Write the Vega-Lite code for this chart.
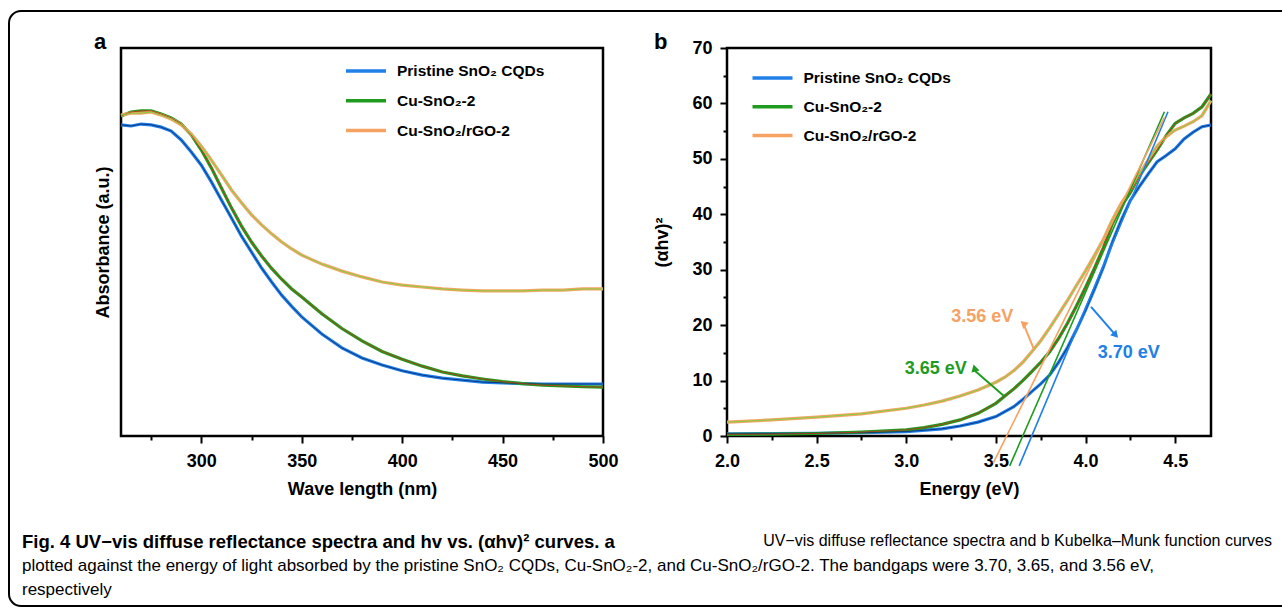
{
  "$schema": "https://vega.github.io/schema/vega-lite/v6.json",
  "background": "white",
  "padding": {"left": 8, "top": 10, "right": -54, "bottom": 0},
  "bounds": "flush",
  "spacing": 124,
  "resolve": {"scale": {"color": "independent", "stroke": "independent", "angle": "independent", "fill": "independent"}, "legend": {"color": "independent", "fill": "independent"}},
  "title": {
    "text": "Fig. 4 UV−vis diffuse reflectance spectra and hv vs. (αhv)² curves. a",
    "subtitle": ["plotted against the energy of light absorbed by the pristine SnO₂ CQDs, Cu-SnO₂-2, and Cu-SnO₂/rGO-2. The bandgaps were 3.70, 3.65, and 3.56 eV,", "respectively"],
    "orient": "bottom", "anchor": "start", "frame": "bounds", "dx": 14, "offset": -74,
    "font": "Liberation Sans", "fontSize": 18.5, "fontWeight": "bold", "color": "black",
    "subtitleFont": "Liberation Sans", "subtitleFontSize": 17, "subtitleColor": "black", "subtitlePadding": 6, "subtitleLineHeight": 24.5
  },
  "config": {
    "font": "Liberation Sans",
    "view": {"stroke": "black", "strokeWidth": 2.5},
    "axis": {"labelFont": "Liberation Sans", "labelFontWeight": "bold", "labelFontSize": 18, "labelColor": "black", "titleFont": "Liberation Sans", "titleFontWeight": "bold", "titleFontSize": 18, "titleColor": "black", "tickColor": "black", "tickWidth": 2, "domain": false, "grid": false, "labelOverlap": false, "labelFlush": false},
    "legend": {"labelFont": "Liberation Sans", "labelFontWeight": "bold", "labelFontSize": 15.5, "labelColor": "black"}
  },
  "datasets": {
    "spec": [
      {"s": "Pristine SnO₂ CQDs", "wl": 260, "abs": 0.802}, {"s": "Pristine SnO₂ CQDs", "wl": 265, "abs": 0.799}, {"s": "Pristine SnO₂ CQDs", "wl": 270, "abs": 0.804}, {"s": "Pristine SnO₂ CQDs", "wl": 275, "abs": 0.802}, {"s": "Pristine SnO₂ CQDs", "wl": 280, "abs": 0.796}, {"s": "Pristine SnO₂ CQDs", "wl": 285, "abs": 0.786}, {"s": "Pristine SnO₂ CQDs", "wl": 290, "abs": 0.763}, {"s": "Pristine SnO₂ CQDs", "wl": 295, "abs": 0.732}, {"s": "Pristine SnO₂ CQDs", "wl": 300, "abs": 0.698}, {"s": "Pristine SnO₂ CQDs", "wl": 305, "abs": 0.655}, {"s": "Pristine SnO₂ CQDs", "wl": 310, "abs": 0.608}, {"s": "Pristine SnO₂ CQDs", "wl": 315, "abs": 0.562}, {"s": "Pristine SnO₂ CQDs", "wl": 320, "abs": 0.515}, {"s": "Pristine SnO₂ CQDs", "wl": 325, "abs": 0.474}, {"s": "Pristine SnO₂ CQDs", "wl": 330, "abs": 0.433}, {"s": "Pristine SnO₂ CQDs", "wl": 335, "abs": 0.397}, {"s": "Pristine SnO₂ CQDs", "wl": 340, "abs": 0.363}, {"s": "Pristine SnO₂ CQDs", "wl": 345, "abs": 0.334}, {"s": "Pristine SnO₂ CQDs", "wl": 350, "abs": 0.307}, {"s": "Pristine SnO₂ CQDs", "wl": 360, "abs": 0.263}, {"s": "Pristine SnO₂ CQDs", "wl": 370, "abs": 0.227}, {"s": "Pristine SnO₂ CQDs", "wl": 380, "abs": 0.201}, {"s": "Pristine SnO₂ CQDs", "wl": 390, "abs": 0.183}, {"s": "Pristine SnO₂ CQDs", "wl": 400, "abs": 0.168}, {"s": "Pristine SnO₂ CQDs", "wl": 410, "abs": 0.157}, {"s": "Pristine SnO₂ CQDs", "wl": 420, "abs": 0.149}, {"s": "Pristine SnO₂ CQDs", "wl": 430, "abs": 0.144}, {"s": "Pristine SnO₂ CQDs", "wl": 440, "abs": 0.139}, {"s": "Pristine SnO₂ CQDs", "wl": 450, "abs": 0.137}, {"s": "Pristine SnO₂ CQDs", "wl": 460, "abs": 0.135}, {"s": "Pristine SnO₂ CQDs", "wl": 470, "abs": 0.134}, {"s": "Pristine SnO₂ CQDs", "wl": 480, "abs": 0.134}, {"s": "Pristine SnO₂ CQDs", "wl": 490, "abs": 0.134}, {"s": "Pristine SnO₂ CQDs", "wl": 500, "abs": 0.134},
      {"s": "Cu-SnO₂-2", "wl": 260, "abs": 0.825}, {"s": "Cu-SnO₂-2", "wl": 265, "abs": 0.835}, {"s": "Cu-SnO₂-2", "wl": 270, "abs": 0.838}, {"s": "Cu-SnO₂-2", "wl": 275, "abs": 0.838}, {"s": "Cu-SnO₂-2", "wl": 280, "abs": 0.83}, {"s": "Cu-SnO₂-2", "wl": 285, "abs": 0.82}, {"s": "Cu-SnO₂-2", "wl": 290, "abs": 0.804}, {"s": "Cu-SnO₂-2", "wl": 295, "abs": 0.776}, {"s": "Cu-SnO₂-2", "wl": 300, "abs": 0.737}, {"s": "Cu-SnO₂-2", "wl": 305, "abs": 0.691}, {"s": "Cu-SnO₂-2", "wl": 310, "abs": 0.639}, {"s": "Cu-SnO₂-2", "wl": 315, "abs": 0.588}, {"s": "Cu-SnO₂-2", "wl": 320, "abs": 0.541}, {"s": "Cu-SnO₂-2", "wl": 325, "abs": 0.5}, {"s": "Cu-SnO₂-2", "wl": 330, "abs": 0.464}, {"s": "Cu-SnO₂-2", "wl": 335, "abs": 0.432}, {"s": "Cu-SnO₂-2", "wl": 340, "abs": 0.404}, {"s": "Cu-SnO₂-2", "wl": 345, "abs": 0.379}, {"s": "Cu-SnO₂-2", "wl": 350, "abs": 0.358}, {"s": "Cu-SnO₂-2", "wl": 360, "abs": 0.315}, {"s": "Cu-SnO₂-2", "wl": 370, "abs": 0.277}, {"s": "Cu-SnO₂-2", "wl": 380, "abs": 0.245}, {"s": "Cu-SnO₂-2", "wl": 390, "abs": 0.218}, {"s": "Cu-SnO₂-2", "wl": 400, "abs": 0.198}, {"s": "Cu-SnO₂-2", "wl": 410, "abs": 0.18}, {"s": "Cu-SnO₂-2", "wl": 420, "abs": 0.165}, {"s": "Cu-SnO₂-2", "wl": 430, "abs": 0.155}, {"s": "Cu-SnO₂-2", "wl": 440, "abs": 0.147}, {"s": "Cu-SnO₂-2", "wl": 450, "abs": 0.14}, {"s": "Cu-SnO₂-2", "wl": 460, "abs": 0.135}, {"s": "Cu-SnO₂-2", "wl": 470, "abs": 0.131}, {"s": "Cu-SnO₂-2", "wl": 480, "abs": 0.129}, {"s": "Cu-SnO₂-2", "wl": 490, "abs": 0.127}, {"s": "Cu-SnO₂-2", "wl": 500, "abs": 0.126},
      {"s": "Cu-SnO₂/rGO-2", "wl": 260, "abs": 0.827}, {"s": "Cu-SnO₂/rGO-2", "wl": 265, "abs": 0.832}, {"s": "Cu-SnO₂/rGO-2", "wl": 270, "abs": 0.832}, {"s": "Cu-SnO₂/rGO-2", "wl": 275, "abs": 0.835}, {"s": "Cu-SnO₂/rGO-2", "wl": 280, "abs": 0.827}, {"s": "Cu-SnO₂/rGO-2", "wl": 285, "abs": 0.817}, {"s": "Cu-SnO₂/rGO-2", "wl": 290, "abs": 0.802}, {"s": "Cu-SnO₂/rGO-2", "wl": 295, "abs": 0.778}, {"s": "Cu-SnO₂/rGO-2", "wl": 300, "abs": 0.747}, {"s": "Cu-SnO₂/rGO-2", "wl": 305, "abs": 0.711}, {"s": "Cu-SnO₂/rGO-2", "wl": 310, "abs": 0.673}, {"s": "Cu-SnO₂/rGO-2", "wl": 315, "abs": 0.634}, {"s": "Cu-SnO₂/rGO-2", "wl": 320, "abs": 0.601}, {"s": "Cu-SnO₂/rGO-2", "wl": 325, "abs": 0.57}, {"s": "Cu-SnO₂/rGO-2", "wl": 330, "abs": 0.544}, {"s": "Cu-SnO₂/rGO-2", "wl": 335, "abs": 0.521}, {"s": "Cu-SnO₂/rGO-2", "wl": 340, "abs": 0.5}, {"s": "Cu-SnO₂/rGO-2", "wl": 345, "abs": 0.482}, {"s": "Cu-SnO₂/rGO-2", "wl": 350, "abs": 0.466}, {"s": "Cu-SnO₂/rGO-2", "wl": 360, "abs": 0.443}, {"s": "Cu-SnO₂/rGO-2", "wl": 370, "abs": 0.425}, {"s": "Cu-SnO₂/rGO-2", "wl": 380, "abs": 0.41}, {"s": "Cu-SnO₂/rGO-2", "wl": 390, "abs": 0.397}, {"s": "Cu-SnO₂/rGO-2", "wl": 400, "abs": 0.389}, {"s": "Cu-SnO₂/rGO-2", "wl": 410, "abs": 0.384}, {"s": "Cu-SnO₂/rGO-2", "wl": 420, "abs": 0.379}, {"s": "Cu-SnO₂/rGO-2", "wl": 430, "abs": 0.376}, {"s": "Cu-SnO₂/rGO-2", "wl": 440, "abs": 0.374}, {"s": "Cu-SnO₂/rGO-2", "wl": 450, "abs": 0.374}, {"s": "Cu-SnO₂/rGO-2", "wl": 460, "abs": 0.374}, {"s": "Cu-SnO₂/rGO-2", "wl": 470, "abs": 0.376}, {"s": "Cu-SnO₂/rGO-2", "wl": 480, "abs": 0.376}, {"s": "Cu-SnO₂/rGO-2", "wl": 490, "abs": 0.379}, {"s": "Cu-SnO₂/rGO-2", "wl": 500, "abs": 0.379}
    ],
    "km": [
      {"s": "Pristine SnO₂ CQDs", "e": 2.0, "v": 0.4}, {"s": "Pristine SnO₂ CQDs", "e": 2.25, "v": 0.45}, {"s": "Pristine SnO₂ CQDs", "e": 2.5, "v": 0.5}, {"s": "Pristine SnO₂ CQDs", "e": 2.75, "v": 0.6}, {"s": "Pristine SnO₂ CQDs", "e": 3.0, "v": 0.8}, {"s": "Pristine SnO₂ CQDs", "e": 3.2, "v": 1.3}, {"s": "Pristine SnO₂ CQDs", "e": 3.3, "v": 1.8}, {"s": "Pristine SnO₂ CQDs", "e": 3.4, "v": 2.5}, {"s": "Pristine SnO₂ CQDs", "e": 3.5, "v": 3.5}, {"s": "Pristine SnO₂ CQDs", "e": 3.6, "v": 5.3}, {"s": "Pristine SnO₂ CQDs", "e": 3.65, "v": 6.6}, {"s": "Pristine SnO₂ CQDs", "e": 3.7, "v": 8.0}, {"s": "Pristine SnO₂ CQDs", "e": 3.75, "v": 9.4}, {"s": "Pristine SnO₂ CQDs", "e": 3.8, "v": 11.0}, {"s": "Pristine SnO₂ CQDs", "e": 3.85, "v": 13.3}, {"s": "Pristine SnO₂ CQDs", "e": 3.9, "v": 16.0}, {"s": "Pristine SnO₂ CQDs", "e": 3.95, "v": 19.2}, {"s": "Pristine SnO₂ CQDs", "e": 4.0, "v": 22.7}, {"s": "Pristine SnO₂ CQDs", "e": 4.05, "v": 26.5}, {"s": "Pristine SnO₂ CQDs", "e": 4.1, "v": 30.5}, {"s": "Pristine SnO₂ CQDs", "e": 4.15, "v": 35.0}, {"s": "Pristine SnO₂ CQDs", "e": 4.2, "v": 39.0}, {"s": "Pristine SnO₂ CQDs", "e": 4.25, "v": 42.5}, {"s": "Pristine SnO₂ CQDs", "e": 4.3, "v": 45.0}, {"s": "Pristine SnO₂ CQDs", "e": 4.35, "v": 47.3}, {"s": "Pristine SnO₂ CQDs", "e": 4.4, "v": 49.5}, {"s": "Pristine SnO₂ CQDs", "e": 4.45, "v": 50.6}, {"s": "Pristine SnO₂ CQDs", "e": 4.5, "v": 51.8}, {"s": "Pristine SnO₂ CQDs", "e": 4.55, "v": 53.6}, {"s": "Pristine SnO₂ CQDs", "e": 4.6, "v": 54.8}, {"s": "Pristine SnO₂ CQDs", "e": 4.65, "v": 55.8}, {"s": "Pristine SnO₂ CQDs", "e": 4.7, "v": 56.1},
      {"s": "Cu-SnO₂-2", "e": 2.0, "v": 0.3}, {"s": "Cu-SnO₂-2", "e": 2.25, "v": 0.35}, {"s": "Cu-SnO₂-2", "e": 2.5, "v": 0.45}, {"s": "Cu-SnO₂-2", "e": 2.75, "v": 0.7}, {"s": "Cu-SnO₂-2", "e": 3.0, "v": 1.1}, {"s": "Cu-SnO₂-2", "e": 3.1, "v": 1.5}, {"s": "Cu-SnO₂-2", "e": 3.2, "v": 2.1}, {"s": "Cu-SnO₂-2", "e": 3.3, "v": 2.9}, {"s": "Cu-SnO₂-2", "e": 3.4, "v": 4.1}, {"s": "Cu-SnO₂-2", "e": 3.5, "v": 5.9}, {"s": "Cu-SnO₂-2", "e": 3.55, "v": 7.2}, {"s": "Cu-SnO₂-2", "e": 3.6, "v": 8.5}, {"s": "Cu-SnO₂-2", "e": 3.65, "v": 10.0}, {"s": "Cu-SnO₂-2", "e": 3.7, "v": 11.6}, {"s": "Cu-SnO₂-2", "e": 3.75, "v": 13.3}, {"s": "Cu-SnO₂-2", "e": 3.8, "v": 15.2}, {"s": "Cu-SnO₂-2", "e": 3.85, "v": 17.6}, {"s": "Cu-SnO₂-2", "e": 3.9, "v": 20.4}, {"s": "Cu-SnO₂-2", "e": 3.95, "v": 23.5}, {"s": "Cu-SnO₂-2", "e": 4.0, "v": 26.8}, {"s": "Cu-SnO₂-2", "e": 4.05, "v": 30.3}, {"s": "Cu-SnO₂-2", "e": 4.1, "v": 34.0}, {"s": "Cu-SnO₂-2", "e": 4.15, "v": 38.3}, {"s": "Cu-SnO₂-2", "e": 4.2, "v": 41.5}, {"s": "Cu-SnO₂-2", "e": 4.25, "v": 43.9}, {"s": "Cu-SnO₂-2", "e": 4.3, "v": 46.9}, {"s": "Cu-SnO₂-2", "e": 4.35, "v": 49.3}, {"s": "Cu-SnO₂-2", "e": 4.4, "v": 51.6}, {"s": "Cu-SnO₂-2", "e": 4.45, "v": 54.2}, {"s": "Cu-SnO₂-2", "e": 4.5, "v": 56.4}, {"s": "Cu-SnO₂-2", "e": 4.55, "v": 57.4}, {"s": "Cu-SnO₂-2", "e": 4.6, "v": 58.2}, {"s": "Cu-SnO₂-2", "e": 4.65, "v": 59.4}, {"s": "Cu-SnO₂-2", "e": 4.7, "v": 61.7},
      {"s": "Cu-SnO₂/rGO-2", "e": 2.0, "v": 2.5}, {"s": "Cu-SnO₂/rGO-2", "e": 2.25, "v": 2.9}, {"s": "Cu-SnO₂/rGO-2", "e": 2.5, "v": 3.4}, {"s": "Cu-SnO₂/rGO-2", "e": 2.75, "v": 4.0}, {"s": "Cu-SnO₂/rGO-2", "e": 3.0, "v": 5.0}, {"s": "Cu-SnO₂/rGO-2", "e": 3.1, "v": 5.6}, {"s": "Cu-SnO₂/rGO-2", "e": 3.2, "v": 6.3}, {"s": "Cu-SnO₂/rGO-2", "e": 3.3, "v": 7.2}, {"s": "Cu-SnO₂/rGO-2", "e": 3.4, "v": 8.3}, {"s": "Cu-SnO₂/rGO-2", "e": 3.5, "v": 9.7}, {"s": "Cu-SnO₂/rGO-2", "e": 3.55, "v": 10.6}, {"s": "Cu-SnO₂/rGO-2", "e": 3.6, "v": 11.8}, {"s": "Cu-SnO₂/rGO-2", "e": 3.65, "v": 13.3}, {"s": "Cu-SnO₂/rGO-2", "e": 3.7, "v": 15.2}, {"s": "Cu-SnO₂/rGO-2", "e": 3.75, "v": 17.2}, {"s": "Cu-SnO₂/rGO-2", "e": 3.8, "v": 19.5}, {"s": "Cu-SnO₂/rGO-2", "e": 3.85, "v": 22.0}, {"s": "Cu-SnO₂/rGO-2", "e": 3.9, "v": 24.5}, {"s": "Cu-SnO₂/rGO-2", "e": 3.95, "v": 27.2}, {"s": "Cu-SnO₂/rGO-2", "e": 4.0, "v": 29.8}, {"s": "Cu-SnO₂/rGO-2", "e": 4.05, "v": 32.6}, {"s": "Cu-SnO₂/rGO-2", "e": 4.1, "v": 35.5}, {"s": "Cu-SnO₂/rGO-2", "e": 4.15, "v": 39.0}, {"s": "Cu-SnO₂/rGO-2", "e": 4.2, "v": 42.0}, {"s": "Cu-SnO₂/rGO-2", "e": 4.25, "v": 44.4}, {"s": "Cu-SnO₂/rGO-2", "e": 4.3, "v": 47.2}, {"s": "Cu-SnO₂/rGO-2", "e": 4.35, "v": 49.8}, {"s": "Cu-SnO₂/rGO-2", "e": 4.4, "v": 52.3}, {"s": "Cu-SnO₂/rGO-2", "e": 4.45, "v": 54.0}, {"s": "Cu-SnO₂/rGO-2", "e": 4.5, "v": 55.2}, {"s": "Cu-SnO₂/rGO-2", "e": 4.55, "v": 55.9}, {"s": "Cu-SnO₂/rGO-2", "e": 4.6, "v": 56.7}, {"s": "Cu-SnO₂/rGO-2", "e": 4.65, "v": 57.8}, {"s": "Cu-SnO₂/rGO-2", "e": 4.7, "v": 60.5}
    ],
    "tang": [
      {"s": "Pristine SnO₂ CQDs", "e": 3.63, "v": -5.4, "e2": 4.46, "v2": 58.5},
      {"s": "Cu-SnO₂-2", "e": 3.577, "v": -5.4, "e2": 4.44, "v2": 58.5},
      {"s": "Cu-SnO₂/rGO-2", "e": 3.485, "v": -4.9, "e2": 4.44, "v2": 57.5}
    ],
    "arrow": [
      {"s": "Pristine SnO₂ CQDs", "e": 4.031, "v": 23.3, "e2": 4.168, "v2": 18.2},
      {"s": "Cu-SnO₂-2", "e": 3.545, "v": 7.2, "e2": 3.378, "v2": 11.9},
      {"s": "Cu-SnO₂/rGO-2", "e": 3.71, "v": 15.8, "e2": 3.653, "v2": 20.3}
    ],
    "head": [
      {"s": "Pristine SnO₂ CQDs", "e": 4.168, "v": 18.2},
      {"s": "Cu-SnO₂-2", "e": 3.378, "v": 11.9},
      {"s": "Cu-SnO₂/rGO-2", "e": 3.653, "v": 20.3}
    ],
    "lab": [
      {"s": "Pristine SnO₂ CQDs", "e": 4.241, "v": 15.0, "t": "3.70 eV"},
      {"s": "Cu-SnO₂-2", "e": 3.165, "v": 12.0, "t": "3.65 eV"},
      {"s": "Cu-SnO₂/rGO-2", "e": 3.424, "v": 21.4, "t": "3.56 eV"}
    ]
  },
  "hconcat": [
    {
      "width": 482,
      "height": 388,
      "title": {"text": "a", "anchor": "start", "frame": "bounds", "fontSize": 22, "fontWeight": "bold", "font": "Liberation Sans", "color": "black", "offset": -23, "baseline": "alphabetic"},
      "data": {"name": "spec"},
      "encoding": {
        "x": {"field": "wl", "type": "quantitative", "scale": {"domain": [260, 500], "nice": false, "zero": false},
          "axis": {"title": "Wave length (nm)", "values": [275, 300, 325, 350, 375, 400, 425, 450, 475, 500],
            "labelExpr": "datum.value % 50 == 0 ? datum.label : ''",
            "tickSize": {"condition": {"test": "datum.value % 50 == 0", "value": 7}, "value": 4},
            "labelPadding": 9, "titlePadding": 10}},
        "y": {"field": "abs", "type": "quantitative", "scale": {"domain": [0, 1], "nice": false},
          "axis": {"title": "Absorbance (a.u.)", "labels": false, "ticks": false, "titlePadding": 9}}
      },
      "layer": [
        {
          "mark": {"type": "line", "strokeWidth": 3.2},
          "encoding": {
            "color": {"field": "s", "type": "nominal",
              "scale": {"domain": ["Pristine SnO₂ CQDs", "Cu-SnO₂-2", "Cu-SnO₂/rGO-2"], "range": ["#2080e8", "#1f9c1f", "#f6a262"]},
              "legend": {"orient": "none", "legendX": 233, "legendY": 11, "title": null, "symbolType": "M-2,0H2", "symbolSize": 400, "symbolStrokeWidth": 3.5, "labelOffset": 19, "rowPadding": 8.8, "padding": 0}}
          }
        },
        {
          "mark": {"type": "line", "strokeWidth": 0.9},
          "encoding": {
            "stroke": {"field": "s", "type": "nominal",
              "scale": {"domain": ["Pristine SnO₂ CQDs", "Cu-SnO₂-2", "Cu-SnO₂/rGO-2"], "range": ["#0b2f7a", "#b83a1a", "#6fd840"]},
              "legend": null}
          }
        }
      ]
    },
    {
      "width": 484,
      "height": 388,
      "title": {"text": "b", "anchor": "start", "frame": "bounds", "fontSize": 22, "fontWeight": "bold", "font": "Liberation Sans", "color": "black", "offset": -32, "baseline": "alphabetic"},
      "encoding": {
        "x": {"field": "e", "type": "quantitative", "scale": {"domain": [2, 4.7], "nice": false, "zero": false},
          "axis": {"title": "Energy (eV)", "values": [2, 2.25, 2.5, 2.75, 3, 3.25, 3.5, 3.75, 4, 4.25, 4.5],
            "labelExpr": "abs(datum.value * 2 - round(datum.value * 2)) < 0.001 ? format(datum.value, '.1f') : ''",
            "tickSize": {"condition": {"test": "abs(datum.value * 2 - round(datum.value * 2)) < 0.001", "value": 7}, "value": 4},
            "labelPadding": 9, "titlePadding": 10}},
        "y": {"field": "v", "type": "quantitative", "scale": {"domain": [0, 70], "nice": false},
          "axis": {"title": "(αhv)²", "values": [0, 5, 10, 15, 20, 25, 30, 35, 40, 45, 50, 55, 60, 65, 70],
            "labelExpr": "datum.value % 10 == 0 ? datum.label : ''",
            "tickSize": {"condition": {"test": "datum.value % 10 == 0", "value": 7}, "value": 4},
            "labelPadding": 8, "titlePadding": 20}}
      },
      "layer": [
        {
          "data": {"name": "km"},
          "mark": {"type": "line", "strokeWidth": 3.2},
          "encoding": {
            "color": {"field": "s", "type": "nominal",
              "scale": {"domain": ["Pristine SnO₂ CQDs", "Cu-SnO₂-2", "Cu-SnO₂/rGO-2"], "range": ["#2080e8", "#1f9c1f", "#f6a262"]},
              "legend": {"orient": "none", "legendX": 33.5, "legendY": 18, "title": null, "symbolType": "M-2,0H2", "symbolSize": 400, "symbolStrokeWidth": 3.5, "labelOffset": 19, "rowPadding": 7.8, "padding": 0}}
          }
        },
        {
          "data": {"name": "km"},
          "mark": {"type": "line", "strokeWidth": 0.9},
          "encoding": {
            "stroke": {"field": "s", "type": "nominal",
              "scale": {"domain": ["Pristine SnO₂ CQDs", "Cu-SnO₂-2", "Cu-SnO₂/rGO-2"], "range": ["#0b2f7a", "#b83a1a", "#6fd840"]},
              "legend": null}
          }
        },
        {
          "data": {"name": "tang"},
          "mark": {"type": "rule", "strokeWidth": 1.6},
          "encoding": {
            "x2": {"field": "e2"}, "y2": {"field": "v2"},
            "color": {"field": "s", "type": "nominal", "legend": null}
          }
        },
        {
          "data": {"name": "arrow"},
          "mark": {"type": "rule", "strokeWidth": 2},
          "encoding": {
            "x2": {"field": "e2"}, "y2": {"field": "v2"},
            "color": {"field": "s", "type": "nominal", "legend": null}
          }
        },
        {
          "data": {"name": "head"},
          "mark": {"type": "point", "shape": "triangle-up", "filled": true, "opacity": 1, "size": 70},
          "encoding": {
            "color": {"field": "s", "type": "nominal", "legend": null},
            "angle": {"field": "s", "type": "nominal", "scale": {"domain": ["Pristine SnO₂ CQDs", "Cu-SnO₂-2", "Cu-SnO₂/rGO-2"], "range": [138, 311, 338]}, "legend": null}
          }
        },
        {
          "data": {"name": "lab"},
          "mark": {"type": "text", "font": "Liberation Sans", "fontSize": 18, "fontWeight": "bold"},
          "encoding": {
            "text": {"field": "t"},
            "color": {"field": "s", "type": "nominal", "legend": null}
          }
        }
      ]
    },
    {
      "width": 1,
      "height": 1,
      "view": {"stroke": null},
      "data": {"values": [{"q": 0}, {"q": 1}]},
      "mark": {"type": "point", "filled": true, "opacity": 0},
      "encoding": {
        "fill": {"field": "q", "type": "quantitative", "scale": {"range": ["white", "white"]},
          "legend": {"orient": "none", "legendX": -1326, "legendY": -37, "direction": "horizontal", "type": "gradient",
            "gradientLength": 1263, "gradientThickness": 459, "gradientOpacity": 0, "gradientStrokeWidth": 0,
            "labelOpacity": 0, "labelFontSize": 1, "labelOffset": 0, "labelExpr": "''",
            "title": "UV−vis diffuse reflectance spectra and b Kubelka–Munk function curves",
            "titleOrient": "bottom", "titleAnchor": "end", "titleAlign": "right", "titleFont": "Liberation Sans", "titleFontSize": 16, "titleFontWeight": "normal", "titleColor": "black", "titlePadding": 5, "titleLimit": 2000,
            "padding": 57, "strokeColor": "black", "cornerRadius": 12,
            "encode": {"legend": {"update": {"strokeWidth": {"value": 2}}}}}}
      }
    }
  ]
}
